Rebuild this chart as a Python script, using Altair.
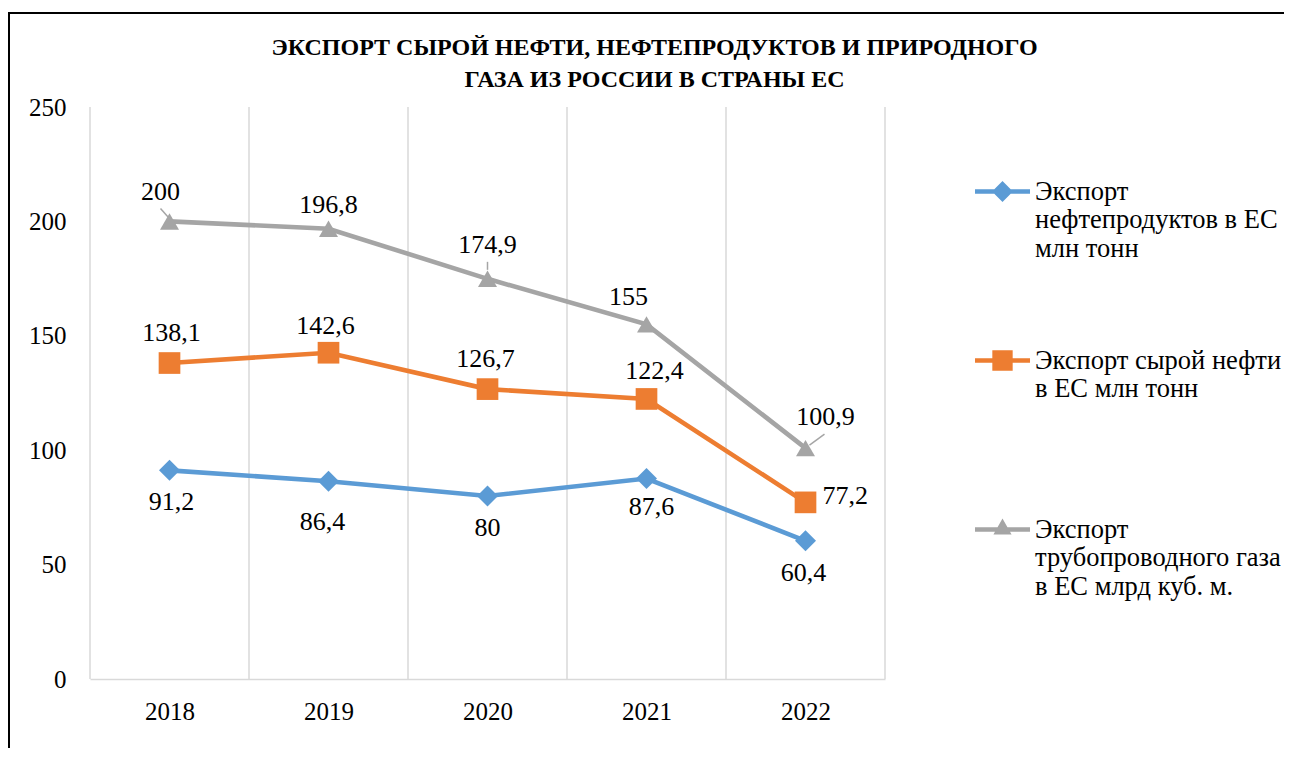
import altair as alt
import pandas as pd

# ---------------- data ----------------
YEARS = [2018, 2019, 2020, 2021, 2022]
SERIES = [
    "Экспорт\nнефтепродуктов в ЕС\nмлн тонн",
    "Экспорт сырой нефти\nв ЕС млн тонн",
    "Экспорт\nтрубопроводного газа\nв ЕС млрд куб. м.",
]
PRODUCTS = [91.2, 86.4, 80, 87.6, 60.4]
CRUDE = [138.1, 142.6, 126.7, 122.4, 77.2]
GAS = [200, 196.8, 174.9, 155, 100.9]
Y_TICKS = [0, 50, 100, 150, 200, 250]
TITLE = ["ЭКСПОРТ СЫРОЙ НЕФТИ, НЕФТЕПРОДУКТОВ И ПРИРОДНОГО",
         "ГАЗА ИЗ РОССИИ В СТРАНЫ ЕС"]

# ---------------- style ----------------
FONT = "Times New Roman, Liberation Serif, DejaVu Serif, serif"
COLORS = ["#5B9BD5", "#ED7D31", "#A5A5A5"]
SHAPES = ["diamond", "square", "triangle-up"]
SIZES = [440, 470, 361]
LEGEND_PATHS = [
    "M-1,-0.082L1,-0.082L1,0.082L-1,0.082Z M0,-0.38L0.38,0L0,0.38L-0.38,0Z",
    "M-1,-0.082L1,-0.082L1,0.082L-1,0.082Z M-0.37,-0.37L0.37,-0.37L0.37,0.37L-0.37,0.37Z",
    "M-1,-0.082L1,-0.082L1,0.082L-1,0.082Z M0,-0.4L0.33,0.18L-0.33,0.18Z",
]
# label placement (dx, dy, align) per series index / year
LABEL_OFFSETS = {
    (0, 2018): (2, 32, "center"), (0, 2019): (-6, 41, "center"),
    (0, 2020): (0, 32, "center"), (0, 2021): (5, 28, "center"),
    (0, 2022): (-2, 32, "center"),
    (1, 2018): (2, -30, "center"), (1, 2019): (-3, -27, "center"),
    (1, 2020): (-2, -30, "center"), (1, 2021): (8, -28, "center"),
    (1, 2022): (17, -6, "left"),
    (2, 2018): (-9, -29, "center"), (2, 2019): (0, -24, "center"),
    (2, 2020): (0, -34, "center"), (2, 2021): (-18, -27, "center"),
    (2, 2022): (20, -31, "center"),
}
# small leader lines from label to marker (path relative to the marker)
LEADERS = {
    (2, 2018): "M-0.05,-0.2L-0.45,-0.65",
    (2, 2020): "M0,-0.45L0,-0.85",
    (2, 2022): "M0.2,-0.15L0.95,-0.7",
}

rows = []
for s, vals in zip(SERIES, [PRODUCTS, CRUDE, GAS]):
    for y, v in zip(YEARS, vals):
        rows.append({"year": y, "series": s, "value": v})
df = pd.DataFrame(rows)

bounds = pd.DataFrame({"year": [y - 0.5 for y in YEARS] + [YEARS[-1] + 0.5]})

x_scale = alt.Scale(domain=[YEARS[0] - 0.5, YEARS[-1] + 0.5], nice=False, zero=False)
y_scale = alt.Scale(domain=[Y_TICKS[0], Y_TICKS[-1]], nice=False)

x_axis = alt.Axis(
    values=YEARS, format="d", title=None, grid=False, ticks=False,
    domainColor="#D9D9D9", domainWidth=1.5, labelFont=FONT, labelFontSize=25,
    labelColor="#000", labelPadding=20, labelFlush=False)
x_enc = alt.X("year:Q", scale=x_scale, axis=x_axis)
y_enc = alt.Y("value:Q", scale=y_scale, axis=alt.Axis(
    values=Y_TICKS, title=None, grid=False, ticks=False, domain=False,
    labelFont=FONT, labelFontSize=25, labelColor="#000", labelPadding=24))

base = alt.Chart(df)

layers = []
# category separators (vertical grid)
layers.append(alt.Chart(bounds).mark_rule(color="#D9D9D9", strokeWidth=1.5).encode(x=x_enc))

# outer frame
layers.append(alt.Chart(alt.Data(values=[{}])).mark_rect(
    fillOpacity=0, stroke="#000", strokeWidth=2).encode(
    x=alt.value(-81), x2=alt.value(1600), y=alt.value(-94), y2=alt.value(1200)))

for i, s in enumerate(SERIES):
    sub = base.transform_filter(alt.datum.series == s)
    layers.append(sub.mark_line(color=COLORS[i], strokeWidth=4.6).encode(x=x_enc, y=y_enc))
    layers.append(sub.mark_point(shape=SHAPES[i], filled=True, size=SIZES[i],
                                 color=COLORS[i], opacity=1).encode(x=x_enc, y=y_enc))

for (i, yr), path in LEADERS.items():
    layers.append(
        base.transform_filter((alt.datum.series == SERIES[i]) & (alt.datum.year == yr))
        .mark_point(shape=path, size=1600, filled=False, stroke=COLORS[i],
                    strokeWidth=1.5, opacity=1)
        .encode(x=x_enc, y=y_enc))

for (i, yr), (dx, dy, al) in LABEL_OFFSETS.items():
    s = SERIES[i]
    layers.append(
        base.transform_filter((alt.datum.series == s) & (alt.datum.year == yr))
        .transform_calculate(label="replace(toString(datum.value), '.', ',')")
        .mark_text(font=FONT, fontSize=26, color="#000", dx=dx, dy=dy, align=al,
                   baseline="middle")
        .encode(x=x_enc, y=y_enc, text="label:N"))

legend = alt.Legend(
    orient="none", legendX=885, legendY=57, title=None, labelFont=FONT,
    labelFontSize=26.5, labelColor="#000", labelLimit=420, labelOffset=5,
    symbolSize=3025, symbolStrokeWidth=0, symbolOpacity=1, gridAlign="all",
    rowPadding=71, labelExpr="split(datum.label, '\\n')", labelBaseline="middle")

layers.append(base.transform_filter("false").mark_point(filled=True, size=3025, opacity=1).encode(
    color=alt.Color("series:N", scale=alt.Scale(domain=SERIES, range=COLORS), legend=legend),
    shape=alt.Shape("series:N", scale=alt.Scale(domain=SERIES, range=LEGEND_PATHS), legend=legend),
))

chart = alt.layer(*layers).properties(
    width=795, height=572,
    padding={"left": 82, "top": 99, "right": 399, "bottom": 69},
    autosize=alt.AutoSizeParams(type="none"),
    title=alt.TitleParams(text=TITLE, font=FONT, fontSize=24, fontWeight="bold",
                          color="#000", anchor="middle", dx=167, offset=-104,
                          baseline="bottom", lineHeight=32),
    background="white",
).configure_view(stroke=None)

chart.save("out.html", embed_options={"renderer": "svg", "actions": False})
